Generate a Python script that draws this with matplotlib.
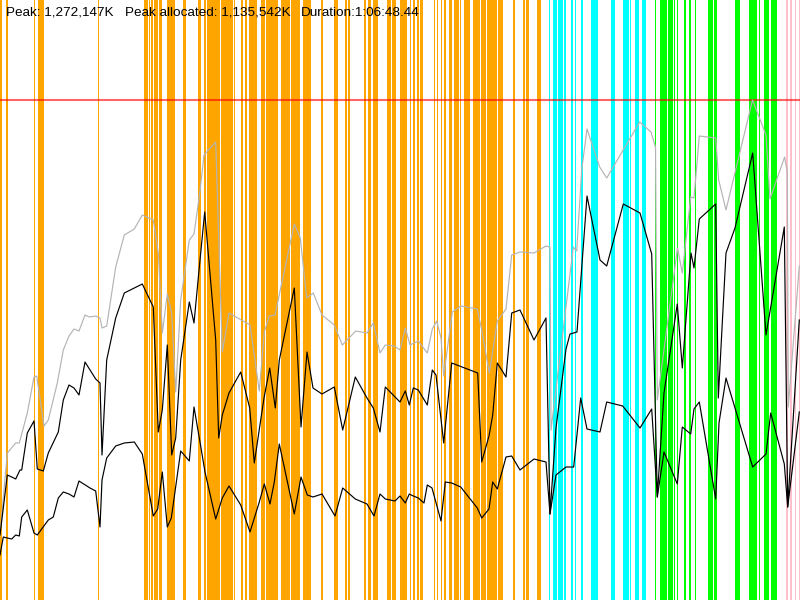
import matplotlib
matplotlib.use("Agg")
import matplotlib.pyplot as plt

# heap timeline, x = time (0..800 units), y = memory (500 units = peak)
peak_k = 1272147
peak_alloc_k = 1135542
duration = "1:06:48.44"
peak_level = 500

# heap size
heap_x = [0, 7.3, 15.7, 19.3, 27.3, 34, 36.7, 44, 48.3, 57.3, 63.3, 69, 74, 79, 85, 89.3, 95.7,
          100, 102, 106.7, 115.7, 124.3, 134.3, 142.3, 153.3, 158.3, 162.3, 167.3, 171.7, 175.7,
          180.7, 189.3, 194, 200, 204, 215.7, 222.3, 229, 250, 259.3, 264.3, 269.3, 275, 294.3,
          300.3, 306.7, 313.3, 322, 334.3, 342.3, 355.7, 367, 373.3, 380, 385.3, 394.3, 400,
          405.3, 410, 418.3, 427.3, 432.3, 436.7, 441, 443.7, 452.3, 461, 477.3, 481.7, 489.3,
          497.3, 506, 511.7, 520, 534, 546, 550, 551, 573.3, 576.7, 581.7, 587, 599.7, 606.7,
          639.7, 651, 655.5, 657.3, 677.5, 682.3, 690.7, 694, 699.3, 715.7, 718.7, 726, 752.5,
          766, 770, 784.6, 787.3, 788.3, 799.3]
heap_y = [65, 147, 157, 157, 187, 223, 224, 174, 180, 217, 250, 264, 271, 269, 285, 283, 284,
          282, 272, 274, 333, 365, 371, 385, 380, 347, 267, 306, 287, 208,
          300, 360, 366, 409, 445, 458, 248, 287, 275, 209, 268, 284, 285, 376,
          362, 302, 307, 285, 275, 255, 269, 267, 277, 247, 255, 254, 250,
          272, 255, 259, 247, 271, 279, 262, 224, 288, 294, 291, 270, 227,
          279, 291, 345, 348, 347, 354, 353, 170, 353, 349, 430, 471, 433, 422,
          478, 468, 453, 200, 352, 327, 403, 402, 464, 462, 420, 390, 500,
          465, 401, 443, 428, 193, 334]

# used before collection
pre_x = [0, 7.3, 11.7, 15.7, 20, 21.7, 27.3, 34, 37.3, 43.3, 48.3, 58.3, 63.3, 69, 74, 79, 85,
         95.7, 100, 102, 106.7, 115.7, 124.3, 142.3, 153.3, 158.3, 162.3, 167.3, 171.7, 175.7,
         180.7, 189.3, 194, 200, 204.7, 215.7, 218.7, 222.3, 229, 240.7, 249.7, 254.3, 264,
         269.7, 275.3, 279.3, 294.3, 301, 307, 313, 322, 334.3, 342.7, 355.3, 367, 373.3, 380,
         385.3, 400, 405.3, 409.3, 413.3, 418.3, 427.3, 432.3, 436, 443.7, 451.7, 477.7, 481.7,
         489, 492.7, 497.3, 506, 511.7, 520, 534, 546, 550, 556, 566, 570, 577, 587, 600, 606.7,
         623.3, 640, 651.7, 657.3, 664, 677.3, 682.3, 691, 694, 699.3, 715.7, 718.3, 726, 735,
         752.7, 766, 784.3, 787.7, 799.3]
pre_y = [65, 125, 123, 121, 130, 130, 167, 179, 131, 129, 147, 168, 200, 215, 212, 205, 238,
         221, 217, 145, 240, 282, 307, 316, 293, 168, 190, 255, 145, 162,
         240, 298, 277, 340, 388, 260, 162, 185, 207, 228, 192, 137, 202,
         232, 192, 240, 312, 173, 248, 212, 206, 213, 170, 223, 202, 192, 168,
         213, 198, 209, 195, 212, 210, 195, 230, 225, 157, 237, 227, 138,
         164, 185, 237, 223, 287, 290, 260, 282, 86, 172, 251, 266, 268, 404, 340, 334,
         396, 387, 346, 103, 207, 296, 232, 347, 332, 381, 396, 202, 347, 372,
         447, 265, 373, 93, 280]

# used after collection
post_x = [0, 3.3, 7.3, 11.7, 15.7, 19.3, 21.7, 27.3, 34, 37.3, 48.3, 53.3, 58.3, 63.3, 69, 74,
          79, 90, 95.7, 100, 102, 106.7, 115.7, 124.3, 134.3, 142.3, 153.3, 157.7, 162.3, 167.3,
          171.3, 180.7, 189.3, 194, 200, 205, 215.7, 222.3, 229, 240.7, 250, 259.3, 264.3, 270,
          274.3, 279.3, 294.3, 301, 307.3, 313, 322, 335, 342.7, 355.3, 367, 374, 380, 385.3,
          395, 400, 405.3, 409.3, 413.3, 418.3, 424, 427.3, 432, 441, 445.3, 451.7, 460.7, 477.3,
          481.7, 489, 492.7, 497.3, 506, 511.7, 520, 534, 546, 550, 556, 566, 573.7, 580.7, 587,
          600, 606.7, 622.7, 640, 651.7, 657.3, 664, 677.3, 682.3, 690.7, 694, 699.3, 715.7, 719,
          726, 752.7, 766, 770.7, 784.3, 787.7, 799.3]
post_y = [45, 63, 62, 61, 65, 64, 83, 90, 67, 65, 80, 83, 102, 108, 106, 103,
          119, 112, 109, 73, 120, 142, 154, 157, 158, 146, 84, 91, 128, 73,
          82, 149, 139, 193, 158, 128, 81, 102, 114, 95, 68, 98, 116, 96,
          118, 156, 86, 123, 105, 103, 106, 84, 112, 101, 96, 84, 106, 101,
          99, 104, 97, 106, 104, 102, 97, 115, 112, 79, 118, 117, 113, 92,
          82, 91, 118, 111, 143, 144, 130, 141, 138, 86, 125, 133, 133, 202, 171,
          168, 198, 194, 172, 191, 103, 148, 116, 173, 166, 191, 198, 101, 177,
          222, 133, 146, 187, 136, 93, 188]

# collection events: start, end, kind
gc_start = [0, 6, 33.5, 37.7, 98.4, 144, 149.2, 150.7, 154, 159, 166.7, 171, 183, 197.7, 204.3,
            206.5, 221, 233.5, 241, 245, 249, 260.7, 266, 281, 290.5, 302.7, 311.7, 321, 333.7,
            345, 348.2, 364, 367.7, 373, 387, 391.5, 400, 410.2, 412.7, 417, 420, 434.3, 436.7,
            440.5, 443.7, 448.7, 454, 459.5, 464, 473, 480.5, 486.5, 491, 497.7, 512.7, 522.7,
            525.7, 536.7,
            549, 553, 557.7, 561, 563.5, 571, 575, 581, 591, 611, 622.7, 630, 635, 642,
            655.3, 660, 667.5, 670.3, 674, 676.7, 684, 688.7, 695, 707.7, 714, 735, 749.3, 751.3,
            754.3, 758.7, 764, 771.3,
            785.7, 790, 794.7, 799]
gc_end = [2, 7.7, 34.5, 43.7, 99.4, 148, 149.8, 153, 158, 162, 170.5, 175, 185.7, 201, 206,
          220, 233, 235, 243, 246.7, 257, 265, 278, 290, 300, 311, 312.3, 323.3, 338,
          347, 349.8, 365.7, 371, 378.3, 391, 395.7, 407.3, 410.8, 415.3, 419, 422.7, 435, 438,
          441.5, 445.7, 452, 459, 461, 470, 480, 486, 490.5, 497, 502.7, 514.7, 524.7,
          529, 541.3,
          549.7, 556.7, 560.5, 563, 566, 573, 576, 582.7, 598, 615, 629, 631, 639, 645.7,
          655.9, 667.3, 670, 673.3, 675.3, 677.7, 685.7, 691, 696, 712.7, 717, 740.3, 751, 754,
          756.7, 759.7, 769, 777,
          787.7, 791.7, 796, 800]
gc_kind = ["o"] * 58 + ["c"] * 14 + ["g"] * 18 + ["p"] * 4

kind_colors = {"o": "#ffa500", "c": "#00ffff", "g": "#00ff00", "p": "#ffc0cb"}

fig = plt.figure(figsize=(8, 6), dpi=100)
ax = fig.add_axes([0, 0, 1, 1])
ax.set_xlim(0, 800)
ax.set_ylim(0, 600)
ax.axis("off")

for s, e, k in zip(gc_start, gc_end, gc_kind):
    ax.axvspan(s, e, color=kind_colors[k], lw=0, zorder=1)

ax.axhline(peak_level, color="red", alpha=0.6, lw=1.5, zorder=2)

ax.plot(heap_x, heap_y, color="#b4b4b4", lw=0.85, zorder=3)
ax.plot(pre_x, pre_y, color="black", lw=0.85, zorder=4)
ax.plot(post_x, post_y, color="black", lw=0.85, zorder=4)

font = dict(family="Liberation Sans", fontsize=9.7, va="center", ha="left", zorder=5)
ax.text(6, 587.5, f"Peak: {peak_k:,}K", **font)
ax.text(125, 587.5, f"Peak allocated: {peak_alloc_k:,}K", **font)
ax.text(301, 587.5, f"Duration:{duration}", **font)

fig.savefig("out.png", dpi=100)
